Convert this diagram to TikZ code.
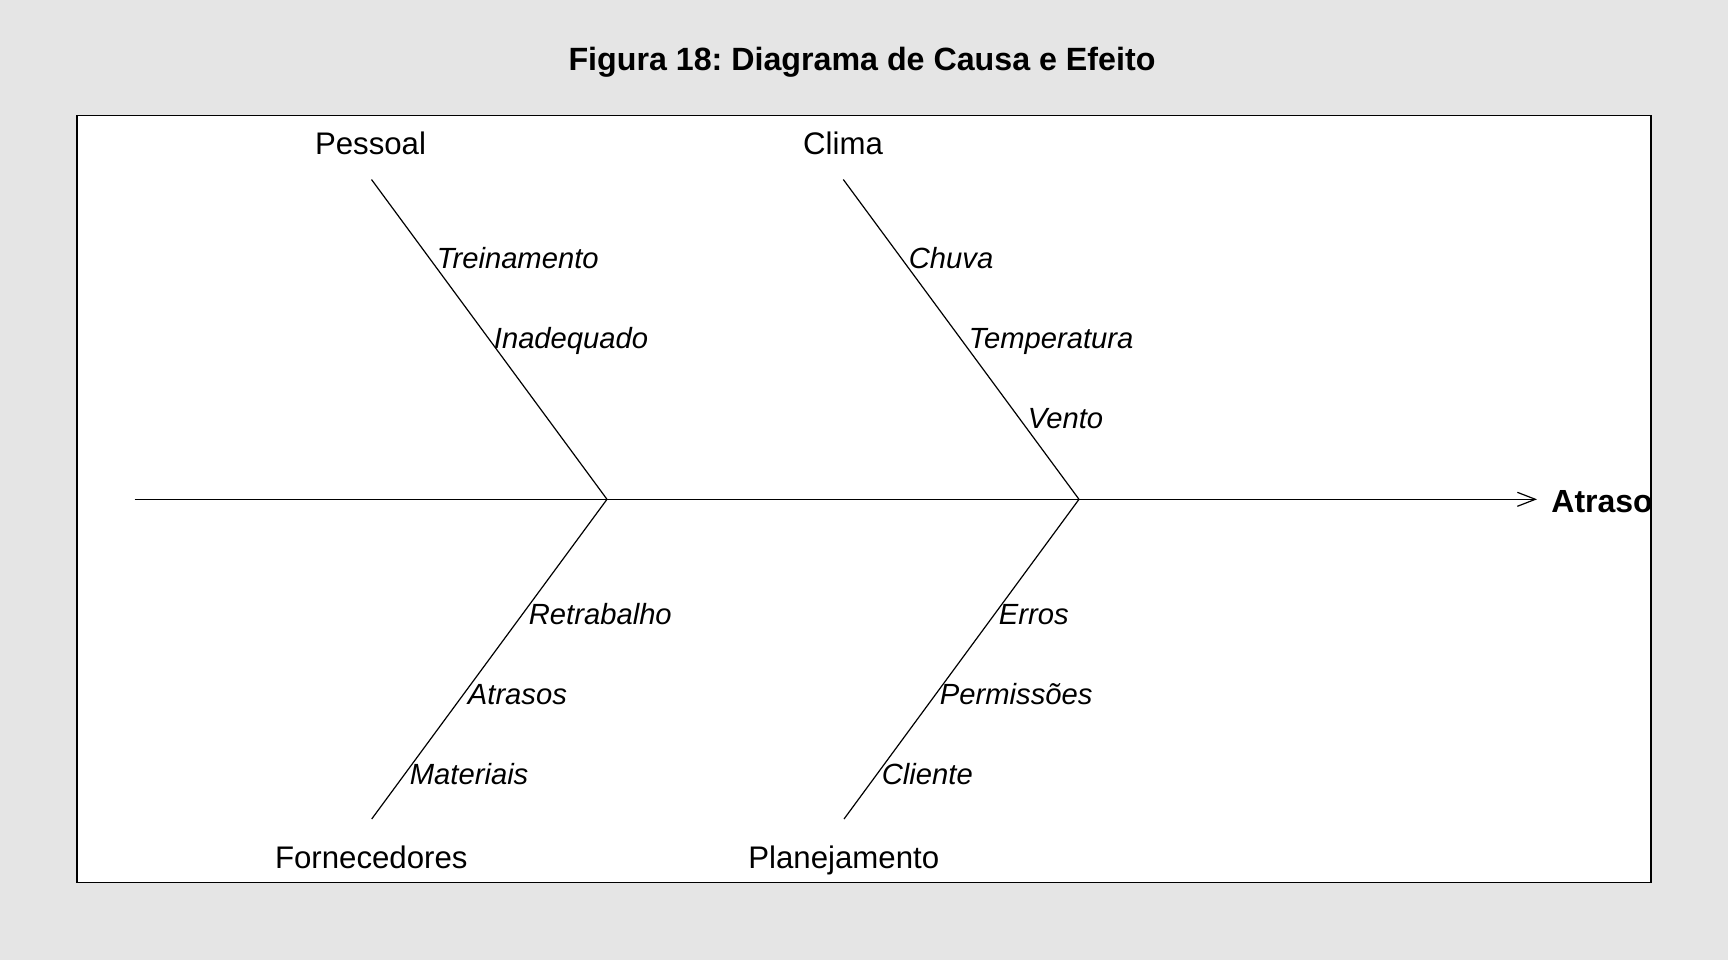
\documentclass[tikz,border=0pt]{standalone}
\usepackage{fontspec}
\setmainfont{Liberation Sans}
\usetikzlibrary{arrows.meta}
\definecolor{bgcol}{RGB}{229,229,229}
\frenchspacing
\begin{document}
\begin{tikzpicture}[x=0.5pt,y=-0.5pt,
  bone/.style={line width=0.6pt, black},
  cat/.style={font=\fontsize{15.6pt}{18pt}\selectfont, anchor=base, inner sep=0pt},
  sub/.style={font=\fontsize{14.6pt}{17pt}\selectfont\itshape, anchor=base west, inner sep=0pt},
]
\useasboundingbox (0,0) rectangle (1728,960);
\fill[bgcol] (0,0) rectangle (1728,960);
\draw[fill=white, line width=0.8pt] (76.7,115.3) rectangle (1651,882.3);

\node[anchor=base, inner sep=0pt, font=\fontsize{16.1pt}{19pt}\selectfont\bfseries] (title) at (862,70.5) {Figura 18: Diagrama de Causa e Efeito};

% skeleton coordinates
\coordinate (sS) at (134.5,499.3);
\coordinate (sE) at (1537,499.3);
\coordinate (j1) at (607,499.3);
\coordinate (j2) at (1079,499.3);
\coordinate (pT) at (371.5,179.5);
\coordinate (cT) at (843.3,179.5);
\coordinate (fB) at (371.7,819);
\coordinate (plB) at (844,819);

\draw[bone, -{Straight Barb[length=9pt,width=7pt]}] (sS) -- (sE);
\draw[bone] (pT) -- (j1);
\draw[bone] (cT) -- (j2);
\draw[bone] (fB) -- (j1);
\draw[bone] (plB) -- (j2);

% effect label (clipped by the box)
\begin{scope}
\clip (76.7,115.3) rectangle (1650.6,882.3);
\node[anchor=base west, inner sep=0pt, font=\fontsize{16pt}{19pt}\selectfont\bfseries] (eff) at (1551,512) {Atraso};
\end{scope}
\draw[line width=0.8pt] (1651,115.3) -- (1651,882.3);

% categories
\node[cat] (pessoal) at (370.5,154) {Pessoal};
\node[cat] (clima) at (843,154) {Clima};
\node[cat] (forn) at (371.3,868.5) {Fornecedores};
\node[cat] (plan) at (843.8,868.5) {Planejamento};

% causes
\node[sub] (s1) at (436.5,268) {Treinamento};
\node[sub] (s2) at (493.5,348) {Inadequado};
\node[sub] (s3) at (908.5,268.5) {Chuva};
\node[sub] (s4) at (968.5,348) {Temperatura};
\node[sub] (s5) at (1027.5,428) {Vento};
\node[sub] (s6) at (528.5,624.5) {Retrabalho};
\node[sub] (s7) at (467.5,704.5) {Atrasos};
\node[sub] (s8) at (409.5,784) {Materiais};
\node[sub] (s9) at (998.5,624.5) {Erros};
\node[sub] (s10) at (939.5,704.5) {Permissões};
\node[sub] (s11) at (881.5,784) {Cliente};
\end{tikzpicture}
\end{document}
